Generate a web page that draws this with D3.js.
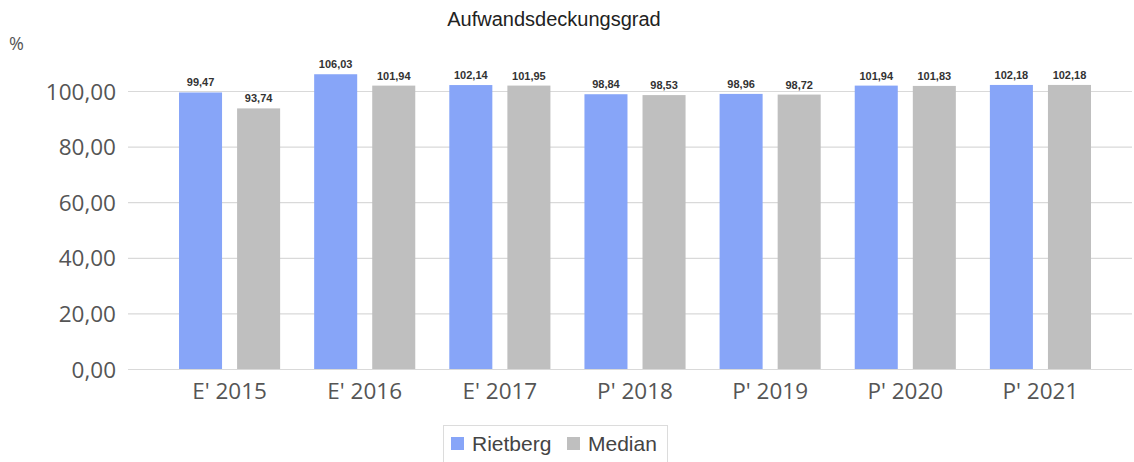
<!DOCTYPE html>
<html>
<head>
<meta charset="utf-8">
<script src="https://cdn.jsdelivr.net/npm/d3@7"></script>
<style>
  html, body { margin: 0; padding: 0; background: #fff; }
  svg { display: block; }
</style>
</head>
<body>
<div id="chart"></div>
<script>
const categories = ["E' 2015", "E' 2016", "E' 2017", "P' 2018", "P' 2019", "P' 2020", "P' 2021"];
const seriesNames = ["Rietberg", "Median"];
const rietberg = [99.47, 106.03, 102.14, 98.84, 98.96, 101.94, 102.18];
const median = [93.74, 101.94, 101.95, 98.53, 98.72, 101.83, 102.18];
const yTicks = [0, 20, 40, 60, 80, 100];
const colors = ["#87a5f8", "#bfbfbf"];

const W = 1134, H = 462;
const svg = d3.select("#chart").append("svg").attr("width", W).attr("height", H);

const fmt = v => d3.format(".2f")(v).replace(".", ",");

const x0 = d3.scaleBand().domain(categories).range([162, 1108]).padding(0);
const x1 = d3.scaleBand().domain(seriesNames).range([0, x0.bandwidth()])
  .paddingInner(0.259).paddingOuter(0.293);
const y = d3.scaleLinear().domain([0, 100]).range([369, 91]);
const color = d3.scaleOrdinal().domain(seriesNames).range(colors);

// grid
const yAxis = d3.axisLeft(y).tickValues(yTicks).tickSize(0).tickFormat(fmt);
const gy = svg.append("g").attr("transform", "translate(128,0)").call(yAxis);
gy.select(".domain").remove();
gy.selectAll(".tick line").remove();
gy.selectAll(".tick").append("line")
  .attr("x1", 0).attr("x2", 1004).attr("stroke", "#d9d9d9").attr("stroke-width", 1.2);
gy.selectAll(".tick text")
  .attr("x", -12).attr("dy", "0.36em")
  .attr("font-family", "'Open Sans', sans-serif").attr("font-size", 22.5)
  .attr("fill", "#555");

// bars
const rows = categories.map((c, i) => ({ cat: c, vals: [
  { s: seriesNames[0], v: rietberg[i] },
  { s: seriesNames[1], v: median[i] }
]}));

const groups = svg.append("g").selectAll("g").data(rows).join("g")
  .attr("transform", d => `translate(${x0(d.cat)},0)`);

groups.selectAll("rect").data(d => d.vals).join("rect")
  .attr("x", d => x1(d.s)).attr("width", x1.bandwidth())
  .attr("y", d => y(d.v)).attr("height", d => y(0) - y(d.v))
  .attr("fill", d => color(d.s));

groups.selectAll("text.lbl").data(d => d.vals).join("text")
  .attr("class", "lbl")
  .attr("x", d => x1(d.s) + x1.bandwidth() / 2)
  .attr("y", d => y(d.v) - 6)
  .attr("text-anchor", "middle")
  .attr("font-family", "'Liberation Sans', Arial, sans-serif")
  .attr("font-size", 11).attr("font-weight", "bold")
  .attr("fill", "#333")
  .text(d => fmt(d.v));

// x axis labels
const xAxis = d3.axisBottom(x0).tickSize(0);
const gx = svg.append("g").attr("transform", "translate(0,369)").call(xAxis);
gx.select(".domain").remove();
gx.selectAll(".tick text")
  .attr("y", 14).attr("dy", "0.71em")
  .attr("font-family", "'Open Sans', sans-serif").attr("font-size", 22.5)
  .attr("fill", "#555");

// title
svg.append("text").attr("x", 554).attr("y", 26).attr("text-anchor", "middle")
  .attr("font-family", "'Liberation Sans', Arial, sans-serif").attr("font-size", 20)
  .attr("fill", "#222").text("Aufwandsdeckungsgrad");

// unit
svg.append("text").attr("x", 9).attr("y", 50)
  .attr("font-family", "'Open Sans', sans-serif").attr("font-size", 18)
  .attr("fill", "#555").text("%");

// legend
const lg = svg.append("g");
lg.append("rect").attr("x", 443.5).attr("y", 425.5).attr("width", 224).attr("height", 40)
  .attr("fill", "#fff").attr("stroke", "#dcdcdc");
const legendX = [451, 567];
seriesNames.forEach((s, i) => {
  lg.append("rect").attr("x", legendX[i]).attr("y", 437).attr("width", 13).attr("height", 13)
    .attr("fill", color(s));
  lg.append("text").attr("x", legendX[i] + 21).attr("y", 451)
    .attr("font-family", "'Liberation Sans', Arial, sans-serif").attr("font-size", 21)
    .attr("fill", "#444").text(s);
});
</script>
</body>
</html>
